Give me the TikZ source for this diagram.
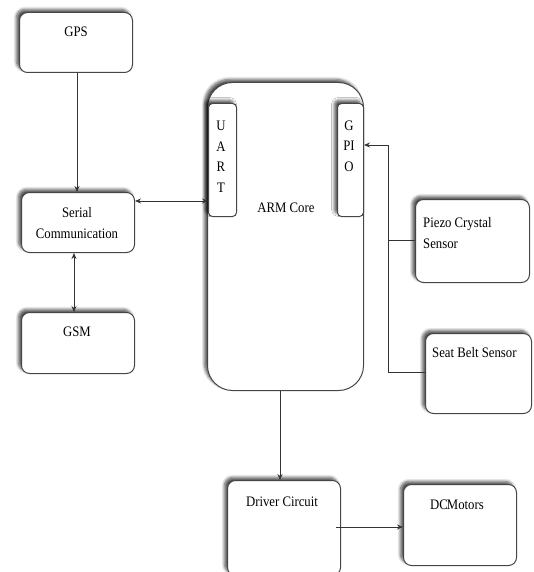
\documentclass[tikz,border=0pt]{standalone}
\usepackage{fontspec}
\setmainfont{Liberation Serif}[FakeStretch=0.88]
\usetikzlibrary{shadows.blur,arrows.meta}
\begin{document}
\begin{tikzpicture}[x=1pt,y=-1pt,
  box/.style={draw=gray!55!black, line width=1pt, fill=white, rounded corners=8pt,
    anchor=north west, inner sep=0pt,
    blur shadow={shadow xshift=-3pt, shadow yshift=3pt, shadow blur steps=6, shadow blur radius=3pt, shadow opacity=70}},
  port/.style={box, rounded corners=4pt},
  lbl/.style={inner sep=0pt, font=\fontsize{14.5}{20.5}\selectfont, text=black},
  conn/.style={draw=black!80, line width=0.8pt},
  tip/.style={-{Stealth[length=6pt,width=5pt]}},
  tips/.style={{Stealth[length=6pt,width=5pt]}-{Stealth[length=6pt,width=5pt]}}]
\useasboundingbox (0,0) rectangle (533,572);
% boxes
\node[box, minimum width=113pt, minimum height=60pt] (gps) at (19,12) {};
\node[box, minimum width=113pt, minimum height=60pt] (ser) at (21,192) {};
\node[box, minimum width=113pt, minimum height=61pt] (gsm) at (21,312) {};
\node[box, rounded corners=25pt, minimum width=156pt, minimum height=308pt] (arm) at (207,82) {};
\node[port, minimum width=28pt, minimum height=113pt] (uart) at (208,103) {};
\node[port, minimum width=26pt, minimum height=113pt] (gpio) at (337,103) {};
\node[box, minimum width=114pt, minimum height=83pt] (piezo) at (415,199) {};
\node[box, minimum width=106pt, minimum height=80pt] (seat) at (425,333) {};
\node[box, minimum width=113pt, minimum height=95pt] (drv) at (227,480) {};
\node[box, minimum width=113pt, minimum height=81pt] (dcm) at (403,484) {};
% labels
\node[lbl] (tgps) at (76,32) {GPS};
\node[lbl, align=center] (tser) at (77,223) {Serial\\Communication};
\node[lbl] (tgsm) at (77,332) {GSM};
\node[lbl, align=center] (tuart) at (221,157) {U\\A\\R\\T};
\node[lbl, align=center] (tgpio) at (349,146) {G\\PI\\O};
\node[lbl] (tarm) at (286,208) {ARM Core};
\node[lbl, align=left, anchor=west] (tpiezo) at (423,233) {Piezo Crystal\\Sensor};
\node[lbl, anchor=west] (tseat) at (432,353) {Seat Belt Sensor};
\node[lbl] (tdrv) at (282,502) {Driver Circuit};
\node[lbl] (tdcm) at (457,505) {DC\kern-1pt Motors};
% junction coordinates
\coordinate (j1) at (388,145);
\coordinate (j2) at (388,240);
\coordinate (j3) at (388,372);
% connectors
\draw[conn, tip] (gps.south -| 77,0) -- (ser.north -| 77,0);
\draw[conn, tips] (ser.east |- 0,201) -- (uart.west |- 0,201);
\draw[conn, tips] (ser.south -| 74,0) -- (gsm.north -| 74,0);
\draw[conn, tip] (arm.south -| 280,0) -- (drv.north -| 280,0);
\draw[conn] (piezo.west |- j2) -- (j2);
\draw[conn] (seat.west |- j3) -- (j3) -- (j1);
\draw[conn, tip] (j1) -- (gpio.east |- j1);
\draw[conn, tip] (336,527) -- (dcm.west |- 0,527);
\end{tikzpicture}
\end{document}
